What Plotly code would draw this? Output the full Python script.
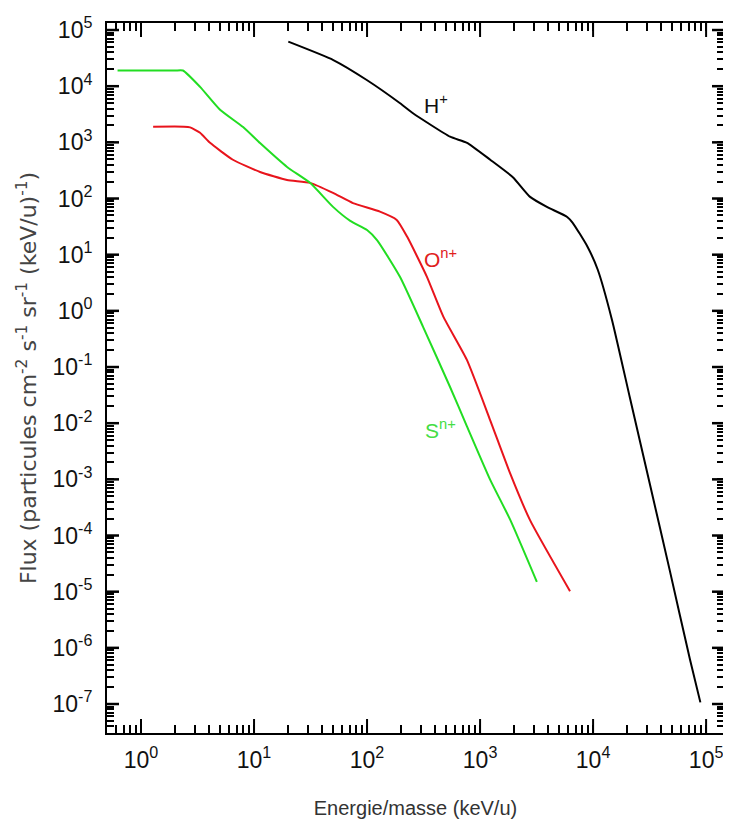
import numpy as np
import plotly.graph_objects as go

# ---------------- data ----------------
h_energy = [20.1, 50.3, 99.4, 196, 255, 543, 767, 1230, 1950, 2770, 3900, 5900, 6600,
            8900, 11000, 14700, 21200, 31900, 47900, 72000, 89000]
h_flux = [6.2e4, 2.92e4, 1.29e4, 4.97e3, 3.3e3, 1.26e3, 980, 490, 240, 107, 71, 47, 37,
          14, 5.4, 0.69, 0.028, 8e-4, 2.3e-5, 6.2e-7, 1.07e-7]

o_energy = [1.28, 2.4, 2.72, 3.33, 4.08, 6.5, 11.3, 19.6, 31.3, 50, 75, 130, 183, 226,
            338, 473, 763, 1225, 1842, 2760, 6250]
o_flux = [1.9e3, 1.9e3, 1.85e3, 1.48e3, 980, 490, 297, 214, 190, 126, 83, 58.5, 41.6, 21,
          4.07, 0.79, 0.135, 0.0115, 1.29e-3, 1.9e-4, 1.02e-5]

s_energy = [0.62, 2.0, 2.35, 3.33, 5.0, 8.0, 11.3, 19.6, 31.3, 50, 71, 100, 123, 196,
            313, 540, 767, 1230, 1850, 3180]
s_flux = [1.9e4, 1.9e4, 1.9e4, 9.7e3, 3.8e3, 1.87e3, 970, 365, 190, 71, 40, 27.5, 18, 4.0,
          0.52, 0.045, 8.7e-3, 9.8e-4, 1.9e-4, 1.5e-5]

x_exponents = [0, 1, 2, 3, 4, 5]
y_exponents = [5, 4, 3, 2, 1, 0, -1, -2, -3, -4, -5, -6, -7]
minor_digits = [2, 3, 4, 5, 6, 7, 8, 9]

labels = [("H<sup>+</sup>", 10**2.61, 10**3.69, "#111111"),
          ("O<sup>n+</sup>", 10**2.646, 10**0.943, "#e0201c"),
          ("S<sup>n+</sup>", 10**2.65, 10**-2.10, "#44dd44")]

X_RANGE = [np.log10(0.5), np.log10(1.44e5)]
Y_RANGE = [-7.516, 5.125]

x_minor = [float(k * 10.0**e) for e in range(-1, 6) for k in minor_digits
           if X_RANGE[0] < np.log10(k * 10.0**e) < X_RANGE[1]]
y_minor = [float(k * 10.0**e) for e in range(-8, 6) for k in minor_digits
           if Y_RANGE[0] < np.log10(k * 10.0**e) < Y_RANGE[1]]

# ---------------- figure ----------------
fig = go.Figure()
fig.add_trace(go.Scatter(x=h_energy, y=h_flux, mode="lines",
                         line=dict(color="#000000", width=2, shape="spline", smoothing=0.5),
                         name="H+"))
fig.add_trace(go.Scatter(x=o_energy, y=o_flux, mode="lines",
                         line=dict(color="#e8141c", width=2, shape="spline", smoothing=0.5),
                         name="On+"))
fig.add_trace(go.Scatter(x=s_energy, y=s_flux, mode="lines",
                         line=dict(color="#22dd22", width=2, shape="spline", smoothing=0.5),
                         name="Sn+"))

lab_font = "Liberation Sans Narrow, Arial Narrow, Liberation Sans"
for txt, xv, yv, col in labels:
    fig.add_annotation(x=np.log10(xv), y=np.log10(yv), text=txt, showarrow=False,
                       font=dict(family=lab_font, size=21, color=col))

tick_font = dict(family=lab_font, size=23, color="#111111")

# all tick positions (major with labels, minor with empty labels) drawn by the axes
x_tickvals = [10.0**e for e in x_exponents] + x_minor
x_ticktext = [f"10<sup>{e}</sup>" for e in x_exponents] + [""] * len(x_minor)
y_tickvals = [10.0**e for e in y_exponents] + y_minor
y_ticktext = [f"10<sup>{e}</sup>" for e in y_exponents] + [""] * len(y_minor)

fig.update_layout(
    xaxis=dict(
        type="log", range=X_RANGE,
        tickmode="array", tickvals=x_tickvals, ticktext=x_ticktext,
        tickfont=tick_font, ticklabelstandoff=5,
        ticks="inside", ticklen=8, tickwidth=2, tickcolor="black",
        showline=True, linecolor="black", linewidth=2, mirror="allticks",
        showgrid=False, zeroline=False,
        title=dict(text="Energie/masse (keV/u)", standoff=29,
                   font=dict(family=lab_font, size=20, color="#333333")),
    ),
    yaxis=dict(
        type="log", range=Y_RANGE,
        tickmode="array", tickvals=y_tickvals, ticktext=y_ticktext,
        tickfont=tick_font, ticklabelstandoff=8,
        ticks="inside", ticklen=7, tickwidth=2, tickcolor="black",
        showline=True, linecolor="black", linewidth=2, mirror="allticks",
        showgrid=False, zeroline=False,
        title=dict(text="Flux (particules cm<sup>-2</sup> s<sup>-1</sup> sr<sup>-1</sup> (keV/u)<sup>-1</sup>)",
                   standoff=10,
                   font=dict(family="DejaVu Sans", size=22, color="#444444")),
    ),
)

# longer marks for the decade (major) ticks on all four sides
for e in x_exponents:
    for anchor, length in ((0, 14), (1, -14)):
        fig.add_shape(type="line", xref="x", yref="paper", ysizemode="pixel",
                      yanchor=anchor, x0=10.0**e, x1=10.0**e, y0=0, y1=length,
                      line=dict(color="black", width=2))
for e in y_exponents:
    for anchor, length in ((0, 12), (1, -12)):
        fig.add_shape(type="line", xref="paper", yref="y", xsizemode="pixel",
                      xanchor=anchor, y0=10.0**e, y1=10.0**e, x0=0, x1=length,
                      line=dict(color="black", width=2.5))

fig.update_layout(
    # the page body adds an 8 px offset, so the figure is sized to compensate
    width=723, height=828,
    margin=dict(l=99, r=7, t=15, b=103, autoexpand=False),
    paper_bgcolor="white", plot_bgcolor="white",
    showlegend=False,
)

fig.write_html("out.html")
